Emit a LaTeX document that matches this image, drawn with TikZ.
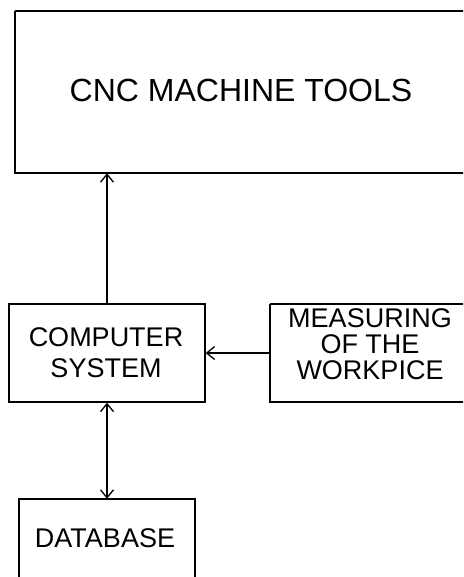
\documentclass[tikz,border=0pt]{standalone}
\usepackage{fontspec}
\setmainfont{Liberation Sans}
\usetikzlibrary{arrows.meta}
\begin{document}
\begin{tikzpicture}[x=1pt,y=-1pt,
  box/.style={draw, line width=1.3pt, inner sep=0pt},
  barb/.tip={Straight Barb[length=8pt,width=13pt,line width=1.3pt]},
  conn/.style={line width=1.3pt, -barb},
  lbl/.style={font=\fontsize{27}{30}\selectfont, align=center}]
\useasboundingbox (0,0) rectangle (463,577);
\begin{scope}
\clip (0,0) rectangle (463,577);
\draw[line width=1.3pt] (15,11) -- (480,11) (15,11) -- (15,173) -- (480,173);
\draw[line width=1.3pt] (270,304) -- (480,304) (270,304) -- (270,402) -- (480,402);
\draw[line width=1.3pt] (19,600) -- (19,499) -- (195,499) -- (195,600);
\end{scope}
\node (cncbox) [minimum width=465pt, minimum height=162pt, inner sep=0pt] at (247.5,92) {};
\node (cnctext) [font=\fontsize{32}{36}\selectfont, anchor=base] at (241,102) {CNC MACHINE TOOLS};
\node (comp) [box, minimum width=196pt, minimum height=98pt] at (107,353) {};
\node (comptext) [lbl, font=\fontsize{27}{31}\selectfont] at (106,353) {COMPUTER\\SYSTEM};
\node (meas) [minimum width=200pt, minimum height=98pt, inner sep=0pt] at (370,353) {};
\node (meastext) [lbl, font=\fontsize{27}{26}\selectfont] at (370,344) {MEASURING\\OF THE\\WORKPICE};
\node (db) [minimum width=176pt, minimum height=160pt, inner sep=0pt] at (107,579) {};
\node (dbtext) [lbl, anchor=base] at (105,547) {DATABASE};
\coordinate (cncb) at (cncbox.south -| comp.north);
\draw[conn] (comp.north) -- (cncb);
\draw[conn] (meas.west) -- (comp.east);
\coordinate (dbt) at (db.north -| comp.south);
\draw[line width=1.3pt, barb-barb] (comp.south) -- (dbt);
\end{tikzpicture}
\end{document}
